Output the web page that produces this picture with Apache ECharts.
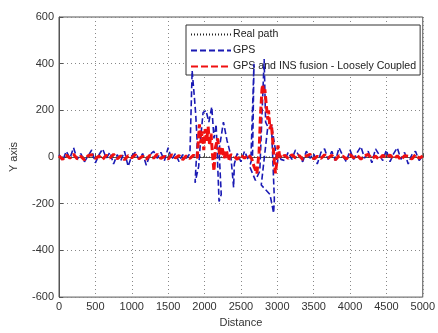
<!DOCTYPE html>
<html>
<head>
<meta charset="utf-8">
<script src="https://cdn.jsdelivr.net/npm/echarts@6/dist/echarts.min.js"></script>
<style>
  html, body { margin: 0; padding: 0; background: #fff; }
  #chart { width: 438px; height: 333px; }
</style>
</head>
<body>
<div id="chart"></div>
<script>
// axis ticks
const xTicks = [0, 500, 1000, 1500, 2000, 2500, 3000, 3500, 4000, 4500, 5000]
const yTicks = [-600, -400, -200, 0, 200, 400, 600]

// real path (flat)
const realDist = [0, 5000]
const realY = [0, 0]

// GPS measurements
const gpsDist = [
  0, 50, 100, 150, 200, 250, 300, 350, 400, 450, 500, 550, 600, 650, 700, 750, 800, 850,
  900, 950, 1000, 1050, 1100, 1150, 1200, 1250, 1300, 1350, 1400, 1450, 1500, 1550, 1600,
  1650, 1700, 1750,
  1800, 1830, 1860, 1880, 1900, 1870, 1920, 1950, 1980, 2020, 2060, 2100, 2130, 2160, 2200,
  2230, 2200, 2260, 2310, 2360, 2400, 2410, 2450, 2500, 2550, 2600,
  2640, 2680, 2660, 2620, 2700, 2760, 2820, 2840, 2870, 2780, 2900, 2950, 2960, 2920, 2970,
  3000, 3020, 3050,
  3100, 3150, 3200, 3250, 3300, 3350, 3400, 3450, 3500, 3550, 3600, 3650, 3700, 3750, 3800,
  3850, 3900, 3950, 4000, 4050, 4100, 4150, 4200, 4250, 4300, 4350, 4400, 4450, 4500, 4550,
  4600, 4650, 4700, 4750, 4800, 4850, 4900, 4950, 5000
]
const gpsY = [
  10, -15, 25, -5, 40, -10, 15, -20, 5, 30, -25, 10, 35, -5, 20, -30, 10, -15,
  25, -40, 5, 20, -10, 15, -35, 10, 25, -5, 20, -15, 40, -10, 15,
  -20, 10, -5,
  15, 370, 260, 180, 60, -110, -40, 90, 190, 200, 150, 215, 80, 140, -190,
  -160, 30, 150, 70, 10, -130, -30, 15, -20, 25, -10,
  10, 400, 0, -40, -100, -60, 420, 150, 130, -120, -160, -240, -180, 140, 40,
  -30, 20, -10,
  -15, 20, -10, 30, 5, -20, 25, -5, 15, -30, 20, 35, -10, 25, -15,
  40, 5, -20, 30, -10, 20, 45, -5, 25, -25, 35, 10, -15, 30, -20,
  15, 40, -10, 20, -30, 10, 25, -15, 5
]

// GPS + INS fusion (loosely coupled)
const fusionDist = [
  0, 50, 100, 150, 200, 250, 300, 350, 400, 450, 500, 550, 600, 650, 700, 750, 800, 850,
  900, 950, 1000, 1050, 1100, 1150, 1200, 1250, 1300, 1350, 1400, 1450, 1500, 1550, 1600,
  1650, 1700, 1750, 1800, 1850, 1900,
  1930, 1950, 1970, 1990, 2010, 2030, 2050, 2070, 2090, 2110, 2130, 2150, 2180, 2210, 2240,
  2270, 2300, 2330, 2360, 2400, 2450, 2500, 2550, 2600, 2650,
  2680, 2720, 2750, 2770, 2790, 2800, 2815, 2830, 2850, 2870, 2880, 2900, 2920, 2940, 2960,
  2975, 2990, 3010, 3030, 3060,
  3100, 3150, 3200, 3250, 3300, 3350, 3400, 3450, 3500, 3550, 3600, 3650, 3700, 3750, 3800,
  3850, 3900, 3950, 4000, 4050, 4100, 4150, 4200, 4250, 4300, 4350, 4400, 4450, 4500, 4550,
  4600, 4650, 4700, 4750, 4800, 4850, 4900, 4950, 5000
]
const fusionY = [
  5, -10, 8, -5, 12, -8, 3, -12, 6, 10, -6, 4, -10, 8, -4, 12, -8, 5,
  -12, 6, -3, 10, -7, 4, -10, 8, -5, 12, -6, 3, -9, 10, -4,
  7, -11, 5, -6, 8, -4,
  140, 60, 110, 30, 120, 70, 130, 50, 100, 10, -60, 40, 80, 5, 45,
  -5, 30, -15, 10, 6, -10, 8, -5, 10, -8,
  -40, -70, 20, 180, 290, 310, 270, 290, 220, 160, 200, 120, 140, 60, -20,
  -70, -30, 50, 10, -5,
  8, -6, 10, -4, 7, -10, 5, 12, -8, 3, -6, 10, -5, 8, -12,
  6, 4, -8, 10, -3, 7, -9, 5, 11, -6, 4, -10, 8, -4, 9,
  -7, 5, -11, 6, 3, -8, 10, -5, 4
]

const zip = (xs, ys) => xs.map((x, i) => [x, ys[i]])

const chart = echarts.init(document.getElementById('chart'))

const labelStyle = { color: '#333', fontSize: 11, fontFamily: 'Liberation Sans, Arial, sans-serif' }

chart.setOption({
  backgroundColor: '#fff',
  animation: false,
  grid: {
    left: 57,
    right: 10,
    top: 17,
    bottom: 27,
    show: true,
    borderColor: '#555',
    borderWidth: 1,
  },
  legend: {
    orient: 'vertical',
    left: 186,
    top: 25,
    padding: [4, 4, 3, 4],
    itemGap: 5,
    itemWidth: 40,
    itemHeight: 10,
    itemStyle: { opacity: 0 },
    backgroundColor: '#fff',
    borderColor: '#333',
    borderWidth: 1,
    borderRadius: 0,
    textStyle: { ...labelStyle, fontSize: 10.6, color: '#222', padding: [0, 0, 0, -3] },
    data: ['Real path', 'GPS', 'GPS and INS fusion - Loosely Coupled'],
  },
  xAxis: {
    type: 'value',
    min: xTicks[0],
    max: xTicks[xTicks.length - 1],
    interval: 500,
    name: 'Distance',
    nameLocation: 'middle',
    nameGap: 19,
    nameTextStyle: labelStyle,
    axisLine: { show: true, lineStyle: { color: '#555' } },
    axisTick: { show: true, inside: true, length: 4, lineStyle: { color: '#555' } },
    axisLabel: { ...labelStyle, margin: 4, formatter: v => String(v) },
    splitLine: { show: true, lineStyle: { color: '#888', type: [1, 3] } },
  },
  yAxis: {
    type: 'value',
    min: yTicks[0],
    max: yTicks[yTicks.length - 1],
    interval: 200,
    name: 'Y axis',
    nameLocation: 'middle',
    nameGap: 40,
    nameTextStyle: labelStyle,
    axisLine: { show: true, lineStyle: { color: '#555' } },
    axisTick: { show: true, inside: true, length: 4, lineStyle: { color: '#555' } },
    axisLabel: { ...labelStyle, margin: 5, formatter: v => String(v) },
    splitLine: { show: true, lineStyle: { color: '#888', type: [1, 3] } },
  },
  series: [
    {
      name: 'Real path',
      type: 'line',
      symbol: 'none',
      color: '#222',
      lineStyle: { color: '#222', width: 1, type: [1, 2] },
      data: zip(realDist, realY),
      z: 3,
    },
    {
      name: 'GPS',
      type: 'line',
      symbol: 'none',
      color: '#1a1ab4',
      lineStyle: { color: '#1a1ab4', width: 1.6, type: [6, 3] },
      data: zip(gpsDist, gpsY),
      z: 4,
    },
    {
      name: 'GPS and INS fusion - Loosely Coupled',
      type: 'line',
      symbol: 'none',
      color: '#f01010',
      lineStyle: { color: '#f01010', width: 3, type: [7, 3] },
      data: zip(fusionDist, fusionY),
      z: 5,
    },
  ],
})
</script>
</body>
</html>
